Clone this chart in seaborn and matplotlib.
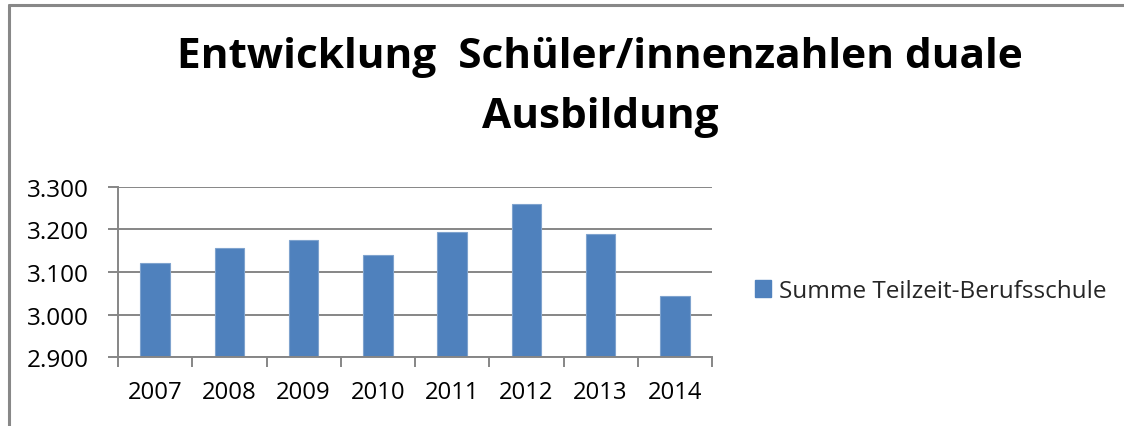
import matplotlib
matplotlib.use("Agg")
import matplotlib.pyplot as plt
import seaborn as sns
import pandas as pd
from matplotlib.lines import Line2D
from matplotlib.patches import Patch

years = ["2007", "2008", "2009", "2010", "2011", "2012", "2013", "2014"]
values = [3120, 3156, 3175, 3140, 3193, 3259, 3188, 3044]
series_name = "Summe Teilzeit-Berufsschule"
title_line1 = "Entwicklung  Schüler/innenzahlen duale"
title_line2 = "Ausbildung"
yticks = [2900, 3000, 3100, 3200, 3300]

sns.set_theme(style="white")
plt.rcParams['font.family'] = ['Open Sans', 'DejaVu Sans']

df = pd.DataFrame({"Jahr": years, "Wert": values})

W, H = 1124, 427
fig = plt.figure(figsize=(W/100, H/100), dpi=100)
ax = fig.add_axes([118/W, 1-358.3/H, (712-118)/W, (358.3-187.7)/H])

bar_color = "#4F81BD"
sns.barplot(data=df, x="Jahr", y="Wert", color=bar_color, width=0.4,
            edgecolor="#7FA3CE", linewidth=0.8, ax=ax, saturation=1)

ax.set_ylim(2900, 3300)
ax.set_xlim(-0.5, len(years)-0.5)
ax.set_yticks(yticks)
ax.set_yticklabels([f"{v:,}".replace(",", ".") for v in yticks])
ax.set_xlabel("")
ax.set_ylabel("")
ax.grid(axis="y", color="#868686", linewidth=1.4)
ax.set_axisbelow(True)
for s in ["top", "right"]:
    ax.spines[s].set_visible(False)
for s in ["left", "bottom"]:
    ax.spines[s].set_color("#868686")
    ax.spines[s].set_linewidth(1.4)

ax.set_xticks([i - 0.5 for i in range(len(years)+1)], minor=True)
ax.tick_params(axis="x", which="major", length=0, pad=16, labelsize=17.2, labelcolor="black")
ax.tick_params(axis="x", which="minor", length=7, width=1.4, color="#868686", direction="out", bottom=True)
ax.tick_params(axis="y", which="major", length=7, width=1.4, color="#868686", direction="out",
               left=True, pad=14, labelsize=17.5, labelcolor="black")

fig.text(600/W, 1-58/H, title_line1, ha="center", va="center",
         fontsize=30.5, fontweight="bold", color="black")
fig.text(600/W, 1-117/H, title_line2, ha="center", va="center",
         fontsize=30.5, fontweight="bold", color="black")

handle = Patch(facecolor=bar_color, edgecolor=bar_color)
fig.legend([handle], [series_name], loc="center left", bbox_to_anchor=(755/W, 1-292/H),
           frameon=False, fontsize=17.5, handlelength=0.65, handleheight=0.65,
           handletextpad=0.35, borderpad=0, borderaxespad=0)

# chart border
fig.add_artist(Line2D([8.5/W, 1.0], [1-5.5/H, 1-5.5/H], color="#888888", linewidth=2.2,
                      transform=fig.transFigure))
fig.add_artist(Line2D([8.5/W, 8.5/W], [0, 1-5.5/H], color="#888888", linewidth=2.2,
                      transform=fig.transFigure))

fig.savefig("out.png", dpi=100, facecolor="white")
